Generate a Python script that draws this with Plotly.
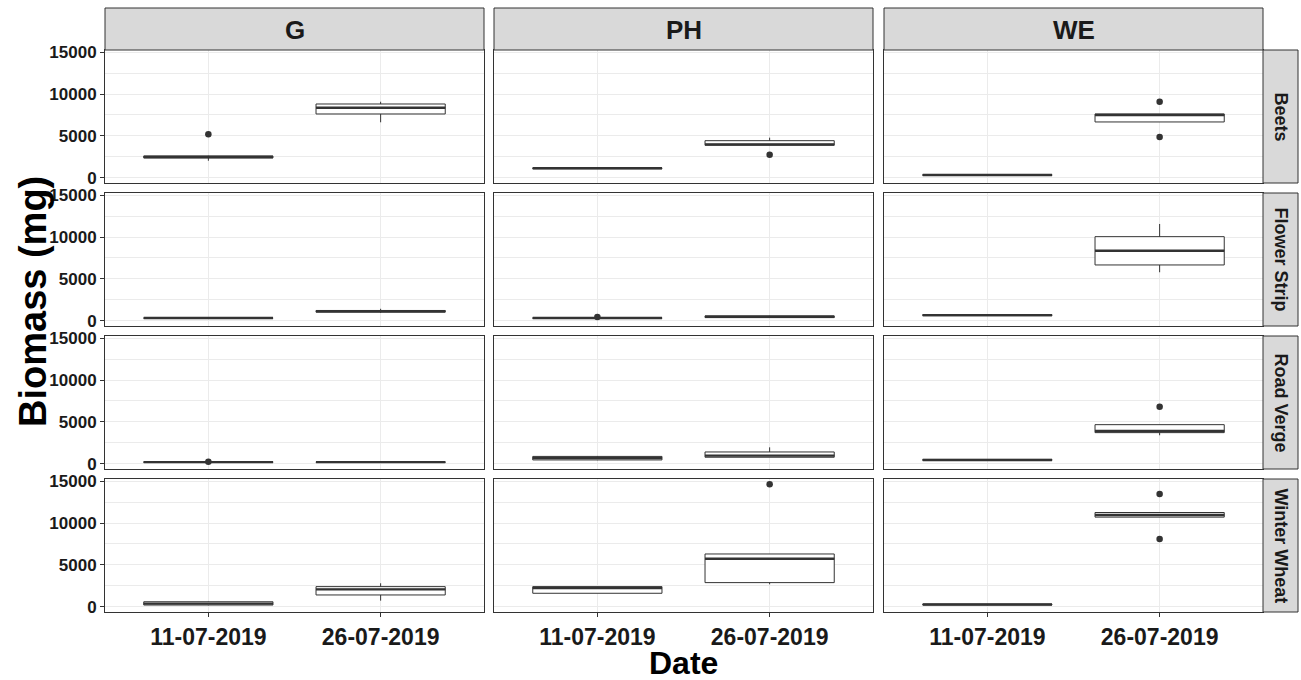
import plotly.graph_objects as go

# Facets and categories
sites = ["G", "PH", "WE"]
habitats = ["Beets", "Flower Strip", "Road Verge", "Winter Wheat"]
dates = ["11-07-2019", "26-07-2019"]

# Box statistics (mg), ordered habitat -> site -> date
lower_whisker = [
    2050, 6630, 1100, 3890, 300, 6670,
    300, 950, 280, 380, 600, 5800,
    150, 150, 450, 800, 400, 3420,
    200, 750, 1630, 2700, 200, 10700,
]
q1 = [
    2380, 7620, 1100, 3890, 300, 6670,
    320, 1050, 310, 400, 620, 6670,
    180, 180, 480, 800, 420, 3730,
    230, 1430, 1630, 2900, 240, 10700,
]
median = [
    2500, 8370, 1150, 4000, 350, 7500,
    350, 1150, 350, 500, 700, 8370,
    220, 220, 700, 990, 480, 3930,
    400, 2100, 2250, 5750, 300, 10950,
]
q3 = [
    2620, 8810, 1200, 4440, 400, 7620,
    370, 1250, 380, 600, 760, 10040,
    260, 250, 900, 1430, 540, 4680,
    620, 2420, 2420, 6310, 340, 11250,
]
upper_whisker = [
    2650, 9080, 1220, 4800, 420, 7620,
    390, 1450, 400, 620, 780, 11550,
    280, 260, 950, 1980, 560, 4680,
    650, 2820, 2420, 6310, 350, 11250,
]

# Outlying observations
outlier_habitat = ["Beets", "Beets", "Beets", "Beets", "Flower Strip", "Road Verge",
                   "Road Verge", "Winter Wheat", "Winter Wheat", "Winter Wheat"]
outlier_site = ["G", "PH", "WE", "WE", "PH", "G", "WE", "PH", "WE", "WE"]
outlier_date = ["11-07-2019", "26-07-2019", "26-07-2019", "26-07-2019", "11-07-2019",
                "11-07-2019", "26-07-2019", "26-07-2019", "26-07-2019", "26-07-2019"]
outlier_value = [5200, 2770, 9080, 4880, 480, 260, 6820, 14600, 13450, 8100]

y_ticks = [0, 5000, 10000, 15000]
y_tick_labels = ["0", "5000", "10000", "15000"]

W, H = 1301, 680
col_left = [105, 494, 884]
col_w = 379
row_top = [50, 193, 336, 479]
row_h = 133
box_w = 0.75
ink = "#333333"
FONT = "Liberation Sans, Arial, sans-serif"


def fx(p):
    return p / W


def fy(p):
    return 1 - p / H


fig = go.Figure()
layout = {}

for r, hab in enumerate(habitats):
    for c, site in enumerate(sites):
        n = r * 3 + c + 1
        xa = "x" if n == 1 else f"x{n}"
        ya = "y" if n == 1 else f"y{n}"
        for d, date in enumerate(dates):
            k = (r * 3 + c) * 2 + d
            pos = d + 1
            fig.add_trace(go.Box(
                x=[pos], q1=[q1[k]], median=[median[k]], q3=[q3[k]],
                lowerfence=[lower_whisker[k]], upperfence=[upper_whisker[k]],
                width=box_w, fillcolor="white", line=dict(color=ink, width=1),
                whiskerwidth=0, boxpoints=False, showlegend=False,
                hoverinfo="skip", xaxis=xa, yaxis=ya,
            ))
            # heavier median bar, as in ggplot's boxplot
            fig.add_trace(go.Scatter(
                x=[pos - box_w / 2, pos + box_w / 2], y=[median[k], median[k]],
                mode="lines", line=dict(color=ink, width=2.4),
                showlegend=False, hoverinfo="skip", xaxis=xa, yaxis=ya,
            ))
            ov = [v for h_, s_, d_, v in zip(outlier_habitat, outlier_site, outlier_date, outlier_value)
                  if h_ == hab and s_ == site and d_ == date]
            if ov:
                fig.add_trace(go.Scatter(
                    x=[pos] * len(ov), y=ov, mode="markers",
                    marker=dict(color=ink, size=6.5),
                    showlegend=False, hoverinfo="skip", xaxis=xa, yaxis=ya,
                ))

        bottom = r == len(habitats) - 1
        left = c == 0
        L = col_left[c]
        T = row_top[r]
        layout["xaxis" if n == 1 else f"xaxis{n}"] = dict(
            domain=[fx(L), fx(L + col_w)], anchor=ya, range=[0.4, 2.6],
            tickvals=[1, 2], ticktext=dates, showticklabels=bottom,
            ticks="outside" if bottom else "", ticklen=4, tickcolor=ink,
            tickfont=dict(family=FONT, size=23, color="#1a1a1a", weight="bold"),
            showgrid=True, gridcolor="#EBEBEB", gridwidth=1, zeroline=False,
            showline=True, mirror=True, linecolor=ink, linewidth=1,
            fixedrange=True, automargin=False,
        )
        layout["yaxis" if n == 1 else f"yaxis{n}"] = dict(
            domain=[fy(T + row_h), fy(T)], anchor=xa, range=[-600, 15240],
            tickvals=y_ticks, ticktext=y_tick_labels, showticklabels=left,
            ticks="outside" if left else "", ticklen=4, tickcolor=ink,
            tickfont=dict(family=FONT, size=17, color="#1a1a1a", weight="bold"),
            showgrid=True, gridcolor="#EBEBEB", gridwidth=1, zeroline=False,
            minor=dict(tickvals=[2500, 7500, 12500], showgrid=True,
                       gridcolor="#EBEBEB", gridwidth=0.5),
            showline=True, mirror=True, linecolor=ink, linewidth=1,
            fixedrange=True, automargin=False,
        )

shapes = []
annotations = []
# column strips
for c, site in enumerate(sites):
    L = col_left[c]
    shapes.append(dict(type="rect", xref="paper", yref="paper",
                       x0=fx(L), x1=fx(L + col_w), y0=fy(50), y1=fy(8),
                       fillcolor="#D9D9D9", line=dict(color=ink, width=1)))
    annotations.append(dict(xref="paper", yref="paper", x=fx(L + col_w / 2), y=fy(30),
                            xanchor="center", yanchor="middle",
                            text=site, showarrow=False,
                            font=dict(family=FONT, size=26, color="#1a1a1a", weight="bold")))
# row strips
for r, hab in enumerate(habitats):
    T = row_top[r]
    shapes.append(dict(type="rect", xref="paper", yref="paper",
                       x0=fx(1263), x1=fx(1298), y0=fy(T + row_h), y1=fy(T),
                       fillcolor="#D9D9D9", line=dict(color=ink, width=1)))
    annotations.append(dict(xref="paper", yref="paper", x=fx(1281), y=fy(T + row_h / 2),
                            xanchor="center", yanchor="middle",
                            text=hab, showarrow=False, textangle=90,
                            font=dict(family=FONT, size=18, color="#1a1a1a", weight="bold")))

annotations.append(dict(xref="paper", yref="paper", x=fx(683), y=fy(663),
                        xanchor="center", yanchor="middle",
                        text="Date", showarrow=False,
                        font=dict(family=FONT, size=32, color="black", weight="bold")))
annotations.append(dict(xref="paper", yref="paper", x=fx(33), y=fy(302),
                        xanchor="center", yanchor="middle",
                        text="Biomass (mg)", showarrow=False, textangle=-90,
                        font=dict(family=FONT, size=38, color="black", weight="bold")))

fig.update_layout(
    width=W, height=H, margin=dict(l=0, r=0, t=0, b=0, autoexpand=False),
    paper_bgcolor="white", plot_bgcolor="white",
    shapes=shapes, annotations=annotations, showlegend=False,
    **layout,
)

fig.write_html("out.html")
